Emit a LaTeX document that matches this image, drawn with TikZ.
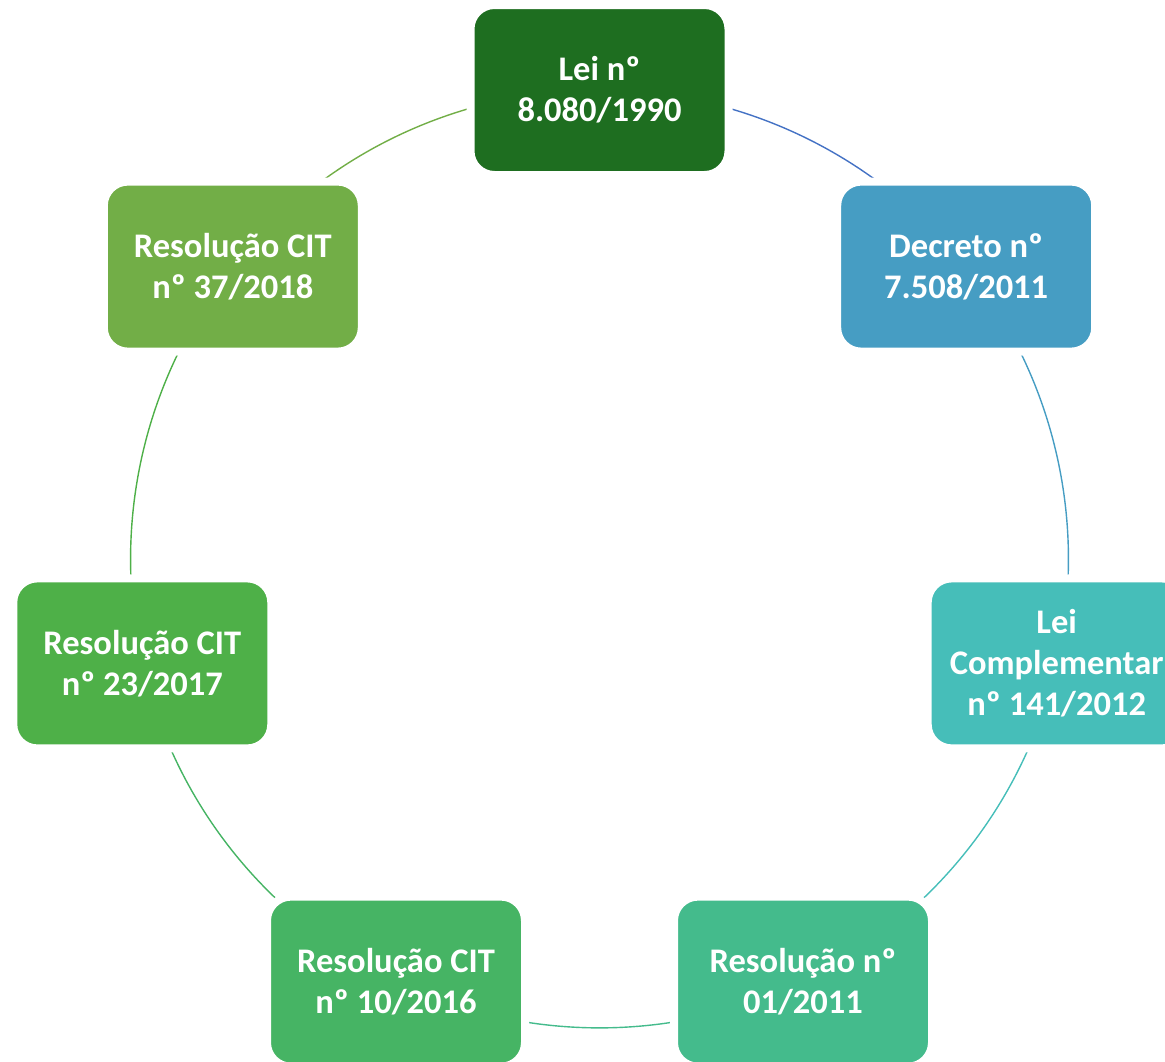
\documentclass[tikz,border=0pt]{standalone}
\usepackage{fontspec}
\setmainfont{Carlito}
\definecolor{c0}{RGB}{30,110,32}
\definecolor{c1}{RGB}{70,157,195}
\definecolor{c2}{RGB}{70,190,185}
\definecolor{c3}{RGB}{68,187,140}
\definecolor{c4}{RGB}{70,180,100}
\definecolor{c5}{RGB}{78,176,72}
\definecolor{c6}{RGB}{114,174,71}
\definecolor{a0}{RGB}{68,114,196}
\begin{document}
\begin{tikzpicture}[x=1pt,y=-1pt,
  box/.style={rectangle, rounded corners=24pt, minimum width=258pt, minimum height=170pt,
    draw=white, line width=8pt, text=white, align=center, inner sep=0pt,
    font=\fontsize{34.5}{41}\selectfont\bfseries},
  conn/.style={line width=1.4pt, bend left=25.71, looseness=0.896}]
\useasboundingbox (0,0) rectangle (1165,1061);
\clip (0,0) rectangle (1165,1061);
\coordinate (p0) at (599.5,90);
\coordinate (p1) at (966.2,266.6);
\coordinate (p2) at (1056.7,663.4);
\coordinate (p3) at (803,981.6);
\coordinate (p4) at (396,981.6);
\coordinate (p5) at (142.3,663.4);
\coordinate (p6) at (232.8,266.6);
\draw[conn, a0] (p0) to (p1);
\draw[conn, c1] (p1) to (p2);
\draw[conn, c2] (p2) to (p3);
\draw[conn, c3] (p3) to (p4);
\draw[conn, c4] (p4) to (p5);
\draw[conn, c5] (p5) to (p6);
\draw[conn, c6] (p6) to (p0);
\node[box, fill=c0] (n0) at (p0) {Lei nº\\8.080/1990};
\node[box, fill=c1] (n1) at (p1) {Decreto nº\\7.508/2011};
\node[box, fill=c2] (n2) at (p2) {Lei\\Complementar\\nº 141/2012};
\node[box, fill=c3] (n3) at (p3) {Resolução nº\\01/2011};
\node[box, fill=c4] (n4) at (p4) {Resolução CIT\\nº 10/2016};
\node[box, fill=c5] (n5) at (p5) {Resolução CIT\\nº 23/2017};
\node[box, fill=c6] (n6) at (p6) {Resolução CIT\\nº 37/2018};
\end{tikzpicture}
\end{document}
